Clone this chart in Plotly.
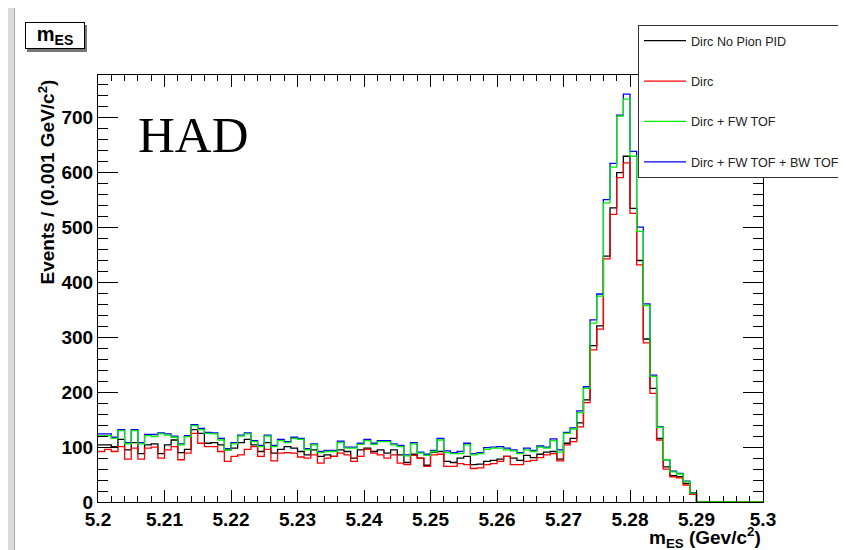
import numpy as np
import plotly.graph_objects as go

# ---------------- data (100 bins, 5.20 - 5.30 GeV/c^2, width 0.001) ----------------
bin_lo = 5.2
bin_width = 0.001

no_pion_pid = [104,104,101,114,95,108,88,104,106,88,
               104,113,90,96,132,125,107,108,104,95,
               98,108,114,104,92,108,89,96,101,98,
               92,86,95,83,86,83,95,92,80,95,
               98,92,95,89,95,86,72,87,80,67,
               91,92,74,72,80,83,68,69,74,76,
               78,83,80,76,85,81,87,91,92,78,
               107,116,144,186,285,321,448,536,600,630,
               535,440,297,207,116,64,48,46,34,15,
               0,0,0,0,0,0,0,0,0,0]

dirc = [92,96,92,101,78,98,78,98,100,80,
        95,101,77,89,125,107,101,101,92,74,
        83,86,96,101,83,96,75,89,90,89,
        82,80,86,71,80,83,89,86,74,83,
        96,89,86,80,86,71,68,85,80,65,
        86,87,65,65,70,68,61,62,68,70,
        74,83,68,68,74,76,81,86,88,75,
        104,110,137,181,277,315,443,524,591,618,
        526,432,290,198,113,60,46,44,31,14,
        0,0,0,0,0,0,0,0,0,0]

dirc_fw = [121,121,116,130,106,130,106,121,119,124,
           122,118,104,119,139,132,125,124,113,95,
           106,120,124,110,101,120,101,112,108,116,
           114,95,104,90,92,92,108,98,98,105,
           112,105,110,110,104,101,84,106,89,85,
           92,113,90,88,88,104,86,88,96,98,
           98,95,93,88,95,92,100,98,112,91,
           125,133,163,207,326,375,545,610,703,734,
           630,493,358,229,136,77,55,51,37,16,
           0,0,0,0,0,0,0,0,0,0]

dirc_fw_bw = [124,124,118,132,108,132,108,123,123,126,
              124,120,106,121,141,134,127,126,116,97,
              108,122,126,112,103,122,103,114,110,118,
              116,97,106,92,94,94,111,100,100,107,
              114,107,112,112,106,103,86,108,91,87,
              94,116,93,90,92,107,88,90,99,100,
              101,98,95,90,98,94,102,100,115,95,
              127,135,166,210,332,379,551,617,705,743,
              639,501,361,231,137,77,56,52,38,17,
              0,0,0,0,0,0,0,0,0,0]

series_names = ["Dirc No Pion PID", "Dirc", "Dirc + FW TOF", "Dirc + FW TOF + BW TOF"]
series_colors = ["#000000", "#ff0000", "#00ee00", "#0000ff"]

# ---------------- figure ----------------
# The page adds an 8px body margin, so the figure is 8px smaller and all
# positions below are given in page pixels.
W, H = 838, 542
ML, MT = 90, 67
PW, PH = 665, 427
MR, MB = W - ML - PW, H - MT - PH
X0_PAGE, Y_BOTTOM_PAGE = 98, 502

def px(xp):
    return (xp - X0_PAGE) / PW

def py(yp):
    return (Y_BOTTOM_PAGE - yp) / PH

n = len(no_pion_pid)
edges = bin_lo + bin_width * np.arange(n + 1)

fig = go.Figure()
all_series = [no_pion_pid, dirc, dirc_fw, dirc_fw_bw]
draw_order = [3, 0, 1, 2]   # blue first, green on top
for k in draw_order:
    vals = list(all_series[k])
    fig.add_trace(go.Scatter(
        x=edges, y=vals + [vals[-1]],
        mode="lines", line=dict(color=series_colors[k], width=1.3, shape="hv"),
        name=series_names[k], legendrank=k + 1, legendgroup=str(k),
        hoverinfo="skip",
    ))

sans = "Liberation Sans, Arial, Helvetica, sans-serif"
bold = dict(family=sans, size=19, color="black", weight="bold")

fig.update_xaxes(
    range=[5.2, 5.3], tick0=5.2, dtick=0.01, ticks="inside", ticklen=12, tickwidth=1,
    tickcolor="black", showline=True, linecolor="black", linewidth=1, mirror="ticks",
    showgrid=False, zeroline=False, tickfont=bold,
    minor=dict(dtick=0.002, ticks="inside", ticklen=6, tickcolor="black", showgrid=False),
)
fig.update_yaxes(
    range=[0, 778], tick0=0, dtick=100, ticks="inside", ticklen=20, tickwidth=1,
    tickcolor="black", showline=True, linecolor="black", linewidth=1, mirror="ticks",
    showgrid=False, zeroline=False, tickfont=bold,
    minor=dict(dtick=20, ticks="inside", ticklen=10, tickcolor="black", showgrid=False),
)

shapes = [
    dict(type="rect", xref="paper", yref="paper", x0=px(15), x1=px(900), y0=py(600), y1=py(-20),
         fillcolor="white", line=dict(width=0), layer="below"),
    dict(type="line", xref="paper", yref="paper", x0=px(14.5), x1=px(14.5), y0=py(600), y1=py(-20),
         line=dict(color="#a8a8a8", width=1), layer="below"),
    # title box shadow
    dict(type="rect", xref="paper", yref="paper", x0=px(27), x1=px(87), y0=py(52), y1=py(25),
         fillcolor="#777777", line=dict(width=0), layer="below"),
]

annotations = [
    dict(text="HAD", x=px(136), y=py(135), xref="paper", yref="paper", xanchor="left",
         yanchor="middle", showarrow=False,
         font=dict(family="Liberation Serif, Times New Roman, serif", size=51, color="black")),
    dict(text="Events / (0.001 GeV/c<sup>2</sup>)", x=px(46), y=py(78), xref="paper", yref="paper",
         xanchor="center", yanchor="top", textangle=-90, showarrow=False,
         font=dict(family=sans, size=19, color="black", weight="bold")),
    dict(text="m<sub>ES</sub> (Gev/c<sup>2</sup>)", x=1.0, y=py(537), xref="paper", yref="paper",
         xanchor="right", yanchor="middle", showarrow=False,
         font=dict(family=sans, size=19, color="black", weight="bold")),
    dict(text="m<sub>ES</sub>", x=px(55), y=py(36), xref="paper", yref="paper",
         xanchor="center", yanchor="middle", showarrow=False, width=58, height=25,
         bgcolor="white", bordercolor="black", borderwidth=1, borderpad=0,
         font=dict(family=sans, size=20, color="black", weight="bold")),
]

fig.update_layout(
    width=W, height=H, margin=dict(l=ML, r=MR, t=MT, b=MB, autoexpand=False),
    paper_bgcolor="#dcdcdc", plot_bgcolor="white",
    shapes=shapes, annotations=annotations,
    showlegend=True,
    legend=dict(x=px(638), y=py(25), xanchor="left", yanchor="top", xref="paper", yref="paper",
                bgcolor="white", bordercolor="#333333", borderwidth=1,
                font=dict(family=sans, size=12.6, color="#222222"),
                traceorder="grouped", tracegroupgap=21, itemwidth=42),
)

fig.write_html("out.html")
